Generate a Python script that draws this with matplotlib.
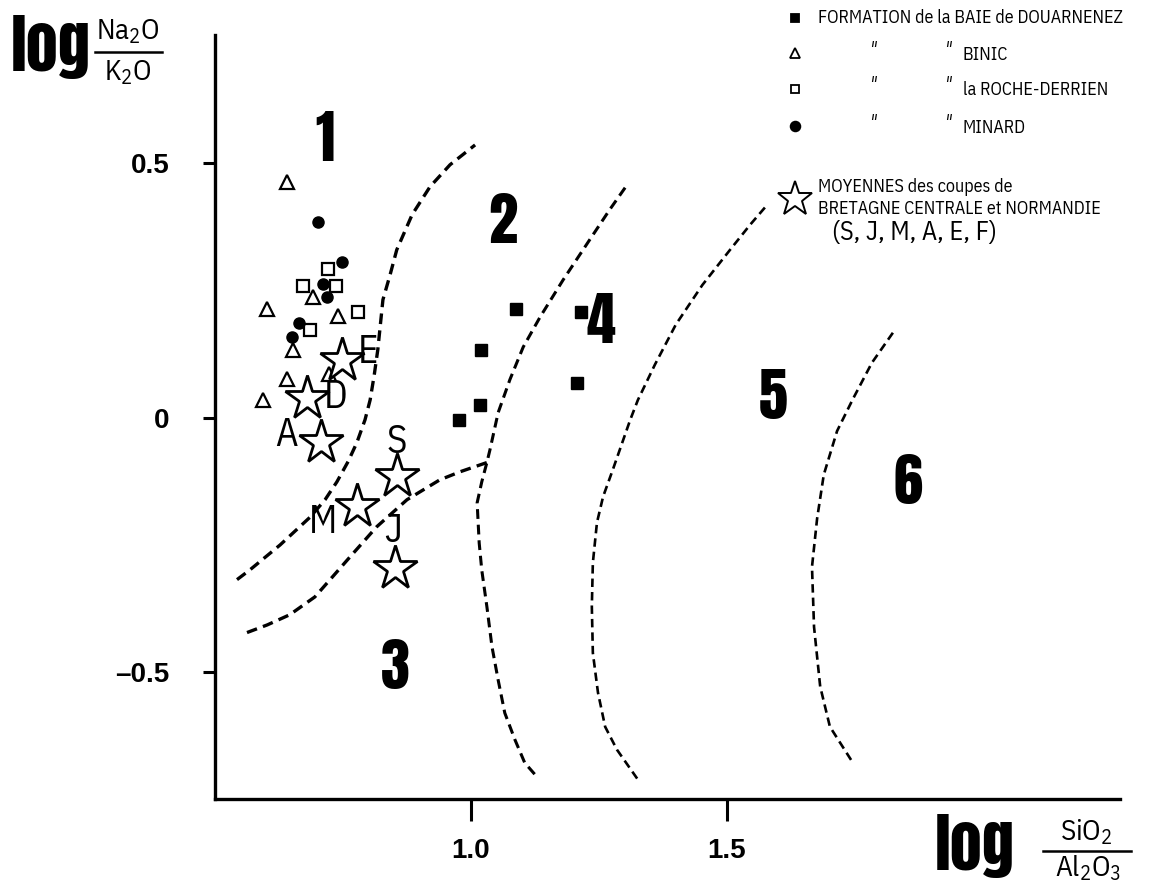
import matplotlib
matplotlib.use("Agg")
import matplotlib.pyplot as plt
from matplotlib.lines import Line2D

# samples (log SiO2/Al2O3, log Na2O/K2O)
douarnenez_x = [1.088, 1.020, 1.018, 0.977, 1.215, 1.207]
douarnenez_y = [0.214, 0.134, 0.026, -0.004, 0.208, 0.069]

binic_x = [0.641, 0.602, 0.691, 0.740, 0.652, 0.723, 0.641, 0.594]
binic_y = [0.464, 0.214, 0.238, 0.200, 0.134, 0.086, 0.077, 0.035]

roche_x = [0.721, 0.672, 0.736, 0.779, 0.686]
roche_y = [0.293, 0.259, 0.259, 0.208, 0.173]

minard_x = [0.701, 0.748, 0.711, 0.719, 0.664, 0.650]
minard_y = [0.385, 0.306, 0.263, 0.238, 0.187, 0.159]

moy_names = ["E", "D", "A", "S", "M", "J"]
moy_x = [0.748, 0.680, 0.707, 0.855, 0.777, 0.852]
moy_y = [0.114, 0.039, -0.047, -0.114, -0.173, -0.295]

# field boundaries
c1_x = [0.543, 0.568, 0.627, 0.686, 0.715, 0.738, 0.760, 0.777, 0.793, 0.803,
        0.811, 0.818, 0.828, 0.842, 0.855, 0.885, 0.920, 0.959, 1.008]
c1_y = [-0.318, -0.299, -0.250, -0.195, -0.161, -0.126, -0.086, -0.049, -0.004, 0.035,
        0.084, 0.134, 0.232, 0.281, 0.330, 0.399, 0.454, 0.497, 0.536]
c2_x = [0.5625, 0.602, 0.646, 0.695, 0.730, 0.764, 0.816, 0.875, 0.939, 0.979, 1.031]
c2_y = [-0.422, -0.407, -0.387, -0.352, -0.312, -0.273, -0.214, -0.161, -0.122, -0.106, -0.088]
c4_x = [1.301, 1.271, 1.232, 1.180, 1.135, 1.102, 1.076, 1.053, 1.037, 1.031, 1.021,
        1.012, 1.016, 1.021, 1.031, 1.041, 1.053, 1.066, 1.086, 1.105, 1.125]
c4_y = [0.452, 0.409, 0.350, 0.271, 0.198, 0.139, 0.075, 0.010, -0.063, -0.088, -0.126,
        -0.167, -0.246, -0.299, -0.371, -0.450, -0.515, -0.580, -0.633, -0.678, -0.701]
c5_x = [1.574, 1.545, 1.506, 1.452, 1.400, 1.359, 1.326, 1.311, 1.277, 1.258, 1.246,
        1.238, 1.236, 1.238, 1.248, 1.262, 1.285, 1.326]
c5_y = [0.413, 0.379, 0.330, 0.261, 0.183, 0.104, 0.035, -0.004, -0.102, -0.155, -0.206,
        -0.285, -0.371, -0.462, -0.540, -0.607, -0.652, -0.711]
c6_x = [1.824, 1.783, 1.746, 1.715, 1.689, 1.676, 1.666, 1.670, 1.682, 1.701, 1.746]
c6_y = [0.167, 0.108, 0.037, -0.026, -0.112, -0.198, -0.293, -0.411, -0.528, -0.607, -0.678]

field_names = ["1", "2", "3", "4", "5", "6"]
field_x = [0.715, 1.0625, 0.852, 1.254, 1.590, 1.854]
field_y = [0.546, 0.385, -0.491, 0.189, 0.039, -0.128]

xticks = [1.0, 1.5]
xtick_labels = ["1.0", "1.5"]
yticks = [-0.5, 0, 0.5]
ytick_labels = ["\u20130.5", "0", "0.5"]

HEAVY = ["Anton", "Oswald", "DejaVu Sans"]
COND = ["IBM Plex Sans Condensed", "DejaVu Sans"]
plt.rcParams["mathtext.fontset"] = "custom"
plt.rcParams["mathtext.rm"] = "IBM Plex Sans Condensed"
plt.rcParams["mathtext.it"] = "IBM Plex Sans Condensed:italic"
plt.rcParams["mathtext.bf"] = "IBM Plex Sans Condensed:bold"

W, H = 1159, 881


def fx(px):
    return px / W


def fy(py):
    return 1 - py / H


fig = plt.figure(figsize=(11.59, 8.81), dpi=100)
ax = fig.add_axes([215 / W, 82 / H, 905 / W, 764 / H])

dash = (0, (3.2, 1.9))
for cx, cy, lw in [(c1_x, c1_y, 2.4), (c2_x, c2_y, 2.4), (c4_x, c4_y, 2.2),
                   (c5_x, c5_y, 1.9), (c6_x, c6_y, 1.9)]:
    ax.plot(cx, cy, color="black", lw=lw, linestyle=dash)

ax.plot(douarnenez_x, douarnenez_y, "s", color="black", ms=9)
ax.plot(binic_x, binic_y, "^", mfc="white", mec="black", mew=1.6, ms=10)
ax.plot(roche_x, roche_y, "s", mfc="white", mec="black", mew=1.6, ms=8)
ax.plot(minard_x, minard_y, "o", color="black", ms=8)
ax.plot(moy_x, moy_y, "*", mfc="white", mec="black", mew=2.0, ms=33, zorder=5)

lab_off = {"E": (0.050, 0.014), "D": (0.055, 0.0), "A": (-0.068, 0.012),
           "S": (0.0, 0.066), "M": (-0.065, -0.032), "J": (-0.004, 0.072)}
for name, x, y in zip(moy_names, moy_x, moy_y):
    dx, dy = lab_off[name]
    ax.text(x + dx, y + dy, name, fontsize=28, family=COND,
            ha="center", va="center", zorder=6)

for name, x, y in zip(field_names, field_x, field_y):
    ax.text(x, y, name, fontsize=42, family=HEAVY,
            ha="center", va="center")

ax.set_xlim(0.5, 0.5 + 905 / 512)
ax.set_ylim(-0.749, 0.752)
ax.spines["top"].set_visible(False)
ax.spines["right"].set_visible(False)
ax.spines["left"].set_linewidth(2.4)
ax.spines["bottom"].set_linewidth(2.4)
ax.set_xticks(xticks)
ax.set_xticklabels(xtick_labels)
ax.set_yticks(yticks)
ax.set_yticklabels(ytick_labels)
ax.tick_params(axis="x", direction="out", length=16, width=2.2, pad=12, labelsize=20)
ax.tick_params(axis="y", direction="out", length=9, width=2.2, pad=24, labelsize=20)
for t in ax.get_xticklabels() + ax.get_yticklabels():
    t.set_fontweight("bold")
    t.set_family(["Liberation Sans", "DejaVu Sans"])

# axis titles: log + fraction
fig.text(fx(51), fy(47), "log", fontsize=46, family=HEAVY,
         ha="center", va="center")
fig.text(fx(128), fy(32), "Na$_2$O", fontsize=21, family=COND, ha="center", va="center")
fig.text(fx(128), fy(73), "K$_2$O", fontsize=21, family=COND, ha="center", va="center")
fig.add_artist(Line2D([fx(95), fx(162)], [fy(52), fy(52)], color="black", lw=1.8,
                      transform=fig.transFigure))

fig.text(fx(975), fy(846), "log", fontsize=46, family=HEAVY,
         ha="center", va="center")
fig.text(fx(1086), fy(832), "SiO$_2$", fontsize=21, family=COND, ha="center", va="center")
fig.text(fx(1088), fy(868), "Al$_2$O$_3$", fontsize=21, family=COND, ha="center", va="center")
fig.add_artist(Line2D([fx(1043), fx(1131)], [fy(851), fy(851)], color="black", lw=1.8,
                      transform=fig.transFigure))

# legend drawn by hand
leg_marks = [("s", "black", 6, 18), ("^", "white", 7, 53), ("s", "white", 6, 89), ("o", "black", 7, 126)]
for m, fc, ms, py in leg_marks:
    fig.add_artist(Line2D([fx(795)], [fy(py)], marker=m, mfc=fc, mec="black", mew=1.3,
                          ms=ms, transform=fig.transFigure))
fig.add_artist(Line2D([fx(795)], [fy(199)], marker="*", mfc="white", mec="black", mew=1.4,
                      ms=26, transform=fig.transFigure))

lfont = dict(fontsize=13, family=COND, va="center")
fig.text(fx(818), fy(18), "FORMATION de la BAIE de DOUARNENEZ", **lfont)
for py, name in [(55, "BINIC"), (90, "la ROCHE-DERRIEN"), (128, "MINARD")]:
    fig.text(fx(870), fy(py - 6), "\u2033", **lfont)
    fig.text(fx(945), fy(py - 6), "\u2033", **lfont)
    fig.text(fx(963), fy(py), name, **lfont)
fig.text(fx(818), fy(187), "MOYENNES des coupes de", **lfont)
fig.text(fx(818), fy(209), "BRETAGNE CENTRALE et NORMANDIE", **lfont)
fig.text(fx(832), fy(233), "(S, J, M, A, E, F)", fontsize=19, family=COND, va="center")

plt.savefig("out.png", dpi=100)
